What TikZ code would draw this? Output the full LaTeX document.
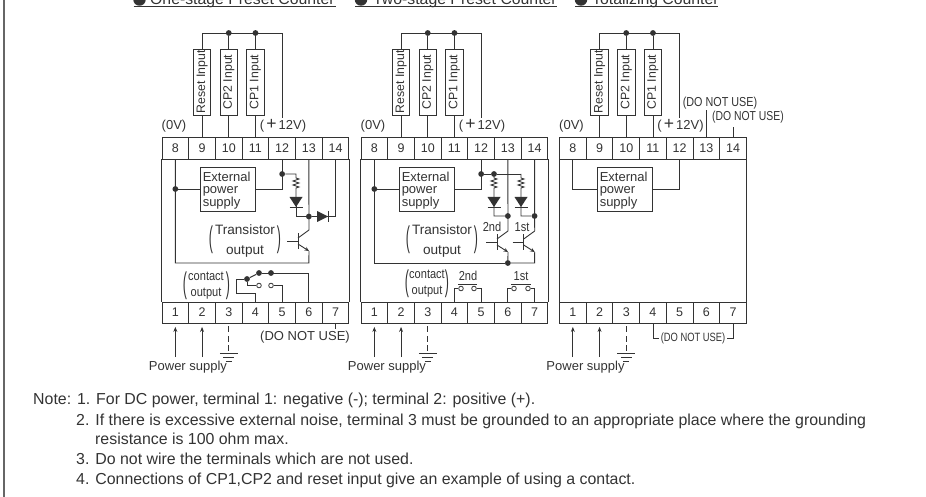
\documentclass[tikz,border=0pt]{standalone}
\usepackage{fontspec}
\usepackage{graphicx}
\setmainfont{Liberation Sans}
\usetikzlibrary{arrows.meta}
\definecolor{ink}{HTML}{333333}
\newcommand{\fs}[1]{\fontsize{#1}{#1}\selectfont}
\newcommand{\Bigparen}[1]{\scalebox{0.95}[2.3]{#1}}
\tikzset{
  x=1pt,y=-1pt,
  wire/.style={draw=ink,line width=0.9pt},
  cell/.style={draw=ink,line width=0.9pt,minimum width=26.7pt,inner sep=0pt,text=ink,font=\fs{12.5}},
  inbox/.style={draw=ink,line width=0.9pt,minimum width=17.5pt,minimum height=66pt,inner sep=0pt,text=ink,font=\fs{12.3}},
  extbox/.style={draw=ink,line width=0.9pt,minimum width=55pt,minimum height=44pt,inner sep=0pt,text=ink},
  label/.style={inner sep=0pt,text=ink,font=\fs{13}},
  note/.style={inner sep=0pt,text=ink,anchor=base west,font=\fs{15.9}},
  dot/.style={circle,fill=ink,inner sep=0pt,minimum size=5.8pt},
  open/.style={circle,draw=ink,line width=0.8pt,fill=white,inner sep=0pt,minimum size=4.6pt},
  tip/.style={wire,-{Stealth[length=5pt,width=4pt]}},
  vdiode/.pic={\fill[ink] (-6.5,0) -- (6.5,0) -- (0,10) -- cycle; \draw[wire] (-6.5,10) -- (6.5,10);},
  hdiode/.pic={\fill[ink] (0,-5.5) -- (11,0) -- (0,5.5) -- cycle; \draw[wire] (11,-5.5) -- (11,5.5);},
  npn/.pic={
    \coordinate (-c) at (11,-11); \coordinate (-e) at (11,10);
    \draw[wire] (-11,0) -- (0,0);
    \draw[wire] (0,-8) -- (0,8);
    \draw[wire] (0,-3) -- (-c);
    \draw[wire,-{Stealth[length=4.5pt,width=4pt]}] (0,3) -- (-e);
  },
}
\newcommand{\Zig}{-- ++(3,1) -- ++(-6,2) -- ++(6,2) -- ++(-6,2) -- ++(6,2) -- ++(-3,1)}
\newcommand{\Panel}[2]{%
\begin{scope}[shift={(#2,0)},name prefix=#1-]
  \foreach \i in {1,...,7}{
    \node[cell,minimum height=21pt] (t\i) at ({13.35+26.7*(\i-1)},312.5) {\i};
  }
  \foreach \i/\j in {8/1,9/2,10/3,11/4,12/5,13/6,14/7}{
    \node[cell,minimum height=22pt] (t\i) at ({13.35+26.7*(\j-1)},148) {\i};
  }
  \draw[wire] (t8.south west) -- (t1.north west);
  \draw[wire] (t14.south east) -- (t7.north east);
  \node[inbox] (ib9) at (t9 |- 0,82) {\rotatebox{90}{Reset Input}};
  \node[inbox] (ib10) at (t10 |- 0,82) {\rotatebox{90}{CP2 Input}};
  \node[inbox] (ib11) at (t11 |- 0,82) {\rotatebox{90}{CP1 Input}};
  \coordinate (bus) at (t12 |- 0,33);
  \coordinate (v12) at (t12 |- 0,118);
  \node[dot] (j10) at (t10 |- bus) {};
  \node[dot] (j11) at (t11 |- bus) {};
  \draw[wire] (ib9.north) |- (bus) -- (v12);
  \draw[wire] (ib10.north) -- (j10);
  \draw[wire] (ib11.north) -- (j11);
  \draw[wire] (ib9.south) -- (t9.north);
  \draw[wire] (ib10.south) -- (t10.north);
  \draw[wire] (ib11.south) -- (t11.north);
  \node[label] (zero) at (12,126) {(0V)};
  \node[label] (plus) at (121,126) {(\,\scalebox{1.35}{+}\,12V)};
  \coordinate (p1) at (t1 |- 0,357);
  \coordinate (p2) at (t2 |- 0,357);
  \draw[tip,shorten >=3.5pt] (p1) -- (t1.south);
  \draw[tip,shorten >=3.5pt] (p2) -- (t2.south);
  \node[label] (ps) at (26,367) {Power supply};
  \coordinate (g) at (t3 |- 0,353);
  \draw[wire,dash pattern=on 6pt off 3.5pt,shorten <=3pt] (t3.south) -- (g);
  \draw[wire] ([xshift=-9pt]g) -- ([xshift=9pt]g);
  \draw[wire] ([xshift=-5.5pt,yshift=-4pt]g) -- ([xshift=5.5pt,yshift=-4pt]g);
  \draw[wire] ([xshift=-3pt,yshift=-8pt]g) -- ([xshift=3pt,yshift=-8pt]g);
\end{scope}}
\newcommand{\ExtBox}[1]{\node[extbox,align=left,font=\fs{13},text width=50.5pt,inner xsep=2.25pt] (ext) at (#1,189) {\rule{0pt}{12.5pt}External\\[-0.1pt]power\\[-0.1pt]supply};}
\begin{document}
\begin{tikzpicture}
\useasboundingbox (0,0) rectangle (926,497);
\draw[draw=black!60,line width=2pt] (4,0) -- (4,497);
% titles
\begin{scope}
\clip (0,0) rectangle (926,497);
\foreach \nm/\bx/\tx/\ex/\ti in {o/139.5/150/336/One-stage Preset Counter,w/361/373/557/Two-stage Preset Counter,u/581/592/718/Totalizing Counter}{
  \node[circle,fill=ink,inner sep=0pt,minimum size=12.5pt] (bull\nm) at (\bx,-0.5) {};
  \node[inner sep=0pt,anchor=base west,text=ink,font=\fs{15.8}] (title\nm) at (\tx,4.5) {\ti};
  \coordinate (us\nm) at (\bx-6,6.5);
  \coordinate (ue\nm) at (\ex,6.5);
  \draw[wire] (us\nm) -- (ue\nm);
}
\end{scope}
% ---------- panel 1
\Panel{a}{162}
\begin{scope}[shift={(162,0)},name prefix=a-]
  \ExtBox{66}
  \node[dot] (j8) at (t8 |- ext.west) {};
  \node[dot] (j12) at (t12 |- 0,174) {};
  \node[dot] (j13) at (t13 |- 0,216.5) {};
  \coordinate (k) at (t13 |- 0,263);
  \coordinate (rt) at (134,178);
  \coordinate (dk) at (134,216.5);
  \coordinate (d14) at (t14 |- j13);
  \pic (q) at (136,241) {npn};
  \draw[wire] (t8.south) |- (k) -- (q-e);
  \draw[wire] (j8) -- (ext.west);
  \draw[wire] (ext.east) -| (t12.south);
  \draw[wire] (j12) -| (rt) \Zig -- (134,197);
  \draw[wire] (134,197) -- (dk) -- (j13);
  \pic at (134,197) {vdiode};
  \draw[wire] (j13) -- (d14);
  \draw[wire] (d14) -- (t14.south);
  \pic at (155,216.5) {hdiode};
  \draw[wire] (t13.south) -- (q-c);
  \node[inner sep=0pt,text=ink,font=\fs{13.6},align=center] (tr) at (83,241) {Transistor\\[6pt]output};
  \node[label] (lp) at (49,240) {\Bigparen{(}};
  \node[label] (rp) at (117,240) {\Bigparen{)}};
  \node[inner sep=0pt,text=ink,font=\fs{13},align=center] (co) at (44,286) {\scalebox{.85}[1]{contact}\\[3pt]\scalebox{.85}[1]{output}};
  \node[label] (lc) at (23,286) {\Bigparen{(}};
  \node[label] (rc) at (66,286) {\Bigparen{)}};
  \coordinate (sw) at (t6 |- 0,273);
  \node[dot] (s1) at (97,273) {};
  \node[dot] (s2) at (109,273) {};
  \node[dot] (s0) at (85,279) {};
  \node[open] (c1) at (97,285.5) {};
  \node[open] (c2) at (109,285.5) {};
  \draw[wire] (t6.north) |- (s1);
  \draw[wire] (s1) -- (s0);
  \draw[wire] (s0) |- (c1);
  \draw[wire] (c2) -| (t5.north);
  \coordinate (a4) at (74,279);
  \coordinate (b4) at (74,293);
  \draw[wire] (s0) -- (a4) -- (b4) -| (t4.north);
  \coordinate (tk) at (t7 |- 0,329);
  \draw[wire] (t7.south) -- (tk);
  \node[label] (dnu) at (143,337) {(DO NOT USE)};
\end{scope}
% ---------- panel 2
\Panel{b}{361}
\begin{scope}[shift={(361,0)},name prefix=b-]
  \ExtBox{66}
  \node[dot] (j8) at (t8 |- ext.west) {};
  \node[dot] (j12) at (t12 |- 0,174) {};
  \node[dot] (j2) at (133,174) {};
  \coordinate (e1) at (160,174);
  \node[dot] (j13) at (t13 |- 0,216) {};
  \node[dot] (j14) at (t14 |- 0,216) {};
  \node[dot] (k) at (t13 |- 0,263) {};
  \coordinate (k14) at (t14 |- k);
  \pic (q) at (136,242) {npn};
  \pic (r) at (162.7,242) {npn};
  \draw[wire] (t8.south) |- (k);
  \draw[wire] (j8) -- (ext.west);
  \draw[wire] (ext.east) -| (t12.south);
  \draw[wire] (j12) -- (j2) -- (e1);
  \draw[wire] (j2) -- (133,178) \Zig -- (133,216) -- (j13);
  \draw[wire] (e1) -- (160,178) \Zig -- (160,216) -- (j14);
  \pic at (133,197) {vdiode};
  \pic at (160,197) {vdiode};
  \draw[wire] (t13.south) -- (q-c);
  \draw[wire] (t14.south) -- (r-c);
  \draw[wire] (q-e) -- (k);
  \draw[wire] (r-e) -- (k14) -- (k);
  \node[label] (l2) at (131,227) {\scalebox{.85}[1]{2nd}};
  \node[label] (l1) at (161,227) {\scalebox{.85}[1]{1st}};
  \node[inner sep=0pt,text=ink,font=\fs{13.6},align=center] (tr) at (81,241) {Transistor\\[6pt]output};
  \node[label] (lp) at (47,240) {\Bigparen{(}};
  \node[label] (rp) at (115,240) {\Bigparen{)}};
  \node[inner sep=0pt,text=ink,font=\fs{13},align=center] (co) at (66,284) {\scalebox{.85}[1]{contact}\\[3pt]\scalebox{.85}[1]{output}};
  \node[label] (lc) at (46,284) {\Bigparen{(}};
  \node[label] (rc) at (86,284) {\Bigparen{)}};
  \node[open] (c1) at (100,288.5) {};
  \node[open] (c2) at (113,288.5) {};
  \draw[wire] (t4.north) |- (c1);
  \draw[wire] (c2) -| (t5.north);
  \coordinate (bl1) at (97,284); \coordinate (bl2) at (116,284);
  \draw[wire] (bl1) -- (bl2);
  \node[label] (n2) at (107,276) {\scalebox{.85}[1]{2nd}};
  \node[open] (c3) at (153,288.5) {};
  \node[open] (c4) at (167,288.5) {};
  \draw[wire] (t6.north) |- (c3);
  \draw[wire] (c4) -| (t7.north);
  \coordinate (bm1) at (150,284); \coordinate (bm2) at (170,284);
  \draw[wire] (bm1) -- (bm2);
  \node[label] (n1) at (160,276) {\scalebox{.85}[1]{1st}};
\end{scope}
% ---------- panel 3
\Panel{c}{559.5}
\begin{scope}[shift={(559.5,0)},name prefix=c-]
  \ExtBox{65.5}
  \draw[wire] (t8.south) |- (ext.west);
  \draw[wire] (t12.south) |- (ext.east);
  \coordinate (u13) at (t13 |- 0,110);
  \coordinate (u14) at (t14 |- 0,127);
  \draw[wire] (t13.north) -- (u13);
  \draw[wire] (t14.north) -- (u14);
  \node[label] (d13) at (160.5,103) {\scalebox{.83}[1]{(DO NOT USE)}};
  \node[label] (d14) at (188.5,117) {\scalebox{.8}[1]{(DO NOT USE)}};
  \node[inner sep=1.5pt,text=ink,font=\fs{12}] (d47) at (133.5,338) {\scalebox{.78}[1]{(DO NOT USE)}};
  \draw[wire] (t4.south) |- (d47.west);
  \draw[wire] (t7.south) |- (d47.east);
\end{scope}
% ---------- notes
\node[note] (n1) at (33,404.7) {Note: 1. For DC power, terminal 1: negative (-); terminal 2: positive (+).};
\node[note] (n2) at (76,425) {2. If there is excessive external noise, terminal 3 must be grounded to an appropriate place where the grounding};
\node[note] (n2b) at (95,444.7) {resistance is 100 ohm max.};
\node[note] (n3) at (76,464.7) {3. Do not wire the terminals which are not used.};
\node[note] (n4) at (76,484.7) {4. Connections of CP1,CP2 and reset input give an example of using a contact.};
\end{tikzpicture}
\end{document}
